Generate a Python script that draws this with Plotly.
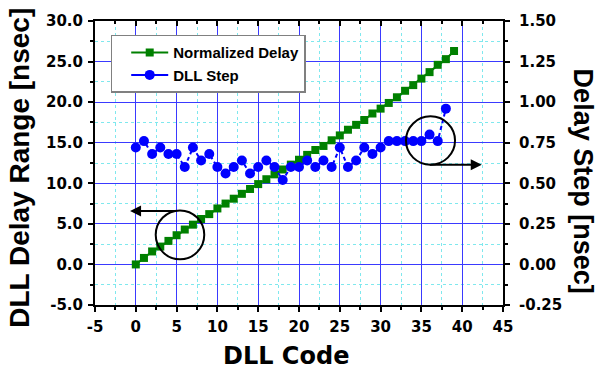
import plotly.graph_objects as go

# ---- data ----
codes_delay = list(range(40))
norm_delay = [0.0, 0.8, 1.6, 2.2, 2.9, 3.6, 4.3, 4.9, 5.6, 6.2,
              6.9, 7.5, 8.1, 8.7, 9.3, 9.9, 10.5, 11.1, 11.7, 12.3,
              12.9, 13.5, 14.1, 14.6, 15.3, 15.9, 16.6, 17.2, 17.8, 18.6,
              19.2, 19.9, 20.6, 21.4, 22.1, 22.9, 23.7, 24.6, 25.3, 26.3]
codes_step = list(range(39))
dll_step = [0.72, 0.76, 0.68, 0.72, 0.68, 0.68, 0.60, 0.72, 0.64, 0.68,
            0.60, 0.56, 0.60, 0.64, 0.56, 0.60, 0.64, 0.60, 0.52, 0.60,
            0.60, 0.64, 0.60, 0.64, 0.60, 0.72, 0.60, 0.64, 0.72, 0.68,
            0.72, 0.76, 0.76, 0.76, 0.76, 0.76, 0.80, 0.76, 0.96]

x_ticks = [-5, 0, 5, 10, 15, 20, 25, 30, 35, 40, 45]
x_labels = ["-5", "0", "5", "10", "15", "20", "25", "30", "35", "40", "45"]
left_ticks = [-5, 0, 5, 10, 15, 20, 25, 30]
left_labels = ["-5.0", "0.0", "5.0", "10.0", "15.0", "20.0", "25.0", "30.0"]
right_ticks = [-0.25, 0, 0.25, 0.5, 0.75, 1.0, 1.25, 1.5]
right_labels = ["-0.25", "0.00", "0.25", "0.50", "0.75", "1.00", "1.25", "1.50"]

GREEN = "#008000"
BLUE = "#0000FF"
ARIAL = "Liberation Sans, Arial, sans-serif"
DEJAVU = "DejaVu Sans, sans-serif"

fig = go.Figure()
fig.add_trace(go.Scatter(
    x=codes_delay, y=norm_delay, name="Normalized Delay", mode="lines+markers",
    line=dict(color=GREEN, width=2),
    marker=dict(symbol="square", size=8, color=GREEN),
    xaxis="x", yaxis="y"))
fig.add_trace(go.Scatter(
    x=codes_step, y=dll_step, name="DLL Step", mode="lines+markers",
    line=dict(color=BLUE, width=2, dash="4px,3px"),
    marker=dict(symbol="circle", size=10, color=BLUE),
    showlegend=False, xaxis="x", yaxis="y2"))
# legend entry for DLL Step (solid line, as in the original legend)
fig.add_trace(go.Scatter(
    x=[None], y=[None], name="DLL Step", mode="lines+markers",
    line=dict(color=BLUE, width=2),
    marker=dict(symbol="circle", size=10, color=BLUE),
    xaxis="x", yaxis="y2"))
# invisible trace to hold the top axis
fig.add_trace(go.Scatter(x=[-5], y=[-5], mode="markers", marker=dict(opacity=0),
                         showlegend=False, hoverinfo="skip", xaxis="x2", yaxis="y"))

tickfont = dict(family=DEJAVU, size=15, color="black", weight="bold")

fig.update_layout(
    width=598, height=373,
    margin=dict(l=95, r=95, t=15, b=68),
    paper_bgcolor="white", plot_bgcolor="white",
    showlegend=True,
    legend=dict(x=0.0385, y=0.952, xanchor="left", yanchor="top",
                bordercolor="#808080", borderwidth=1.5, bgcolor="white",
                font=dict(family=ARIAL, size=15, color="black", weight="bold"),
                indentation=14, itemwidth=37, tracegroupgap=0),
    xaxis=dict(range=[-5, 45], tickmode="array", tickvals=x_ticks, ticktext=x_labels,
               ticks="outside", ticklen=5, tickwidth=1.5, tickcolor="black",
               tickfont=tickfont, ticklabelstandoff=2,
               showline=True, linecolor="black", linewidth=2, zeroline=False,
               showgrid=True, gridcolor="#3a3aff", gridwidth=1,
               minor=dict(dtick=2.5, ticks="outside", ticklen=3, tickcolor="black",
                          showgrid=True, gridcolor="#7fe8ee", griddash="dot", gridwidth=1)),
    xaxis2=dict(range=[-5, 45], overlaying="x", side="top", anchor="y",
                tickmode="array", tickvals=x_ticks, showticklabels=False,
                ticks="inside", ticklen=5, tickwidth=1.5, tickcolor="black",
                showline=True, linecolor="black", linewidth=2, zeroline=False,
                showgrid=False,
                minor=dict(dtick=2.5, ticks="inside", ticklen=3, tickcolor="black", showgrid=False)),
    yaxis=dict(range=[-5, 30], tickmode="array", tickvals=left_ticks, ticktext=left_labels,
               ticks="outside", ticklen=5, tickwidth=1.5, tickcolor="black",
               tickfont=tickfont, ticklabelstandoff=2,
               showline=True, linecolor="black", linewidth=2, zeroline=False,
               showgrid=True, gridcolor="#3a3aff", gridwidth=1,
               minor=dict(dtick=2.5, ticks="outside", ticklen=3, tickcolor="black",
                          showgrid=True, gridcolor="#7fe8ee", griddash="dot", gridwidth=1)),
    yaxis2=dict(range=[-0.25, 1.5], overlaying="y", side="right", anchor="x",
                tickmode="array", tickvals=right_ticks, ticktext=right_labels,
                ticks="outside", ticklen=5, tickwidth=1.5, tickcolor="black",
                tickfont=tickfont, ticklabelstandoff=6,
                showline=True, linecolor="black", linewidth=2, zeroline=False,
                showgrid=False,
                minor=dict(dtick=0.125, ticks="outside", ticklen=3, tickcolor="black", showgrid=False)),
)

# circles
fig.add_shape(type="circle", xref="x", yref="y", x0=2.44, x1=8.39, y0=0.63, y1=6.66,
              line=dict(color="black", width=2))
fig.add_shape(type="circle", xref="x", yref="y", x0=33.11, x1=39.12, y0=12.29, y1=18.25,
              line=dict(color="black", width=2))

# arrows
fig.add_annotation(x=-0.7, y=6.58, ax=5.0, ay=6.58, xref="x", yref="y", axref="x", ayref="y",
                   text="", showarrow=True, arrowhead=2, arrowsize=1.1, arrowwidth=2,
                   arrowcolor="black")
fig.add_annotation(x=42.4, y=12.29, ax=35.85, ay=12.29, xref="x", yref="y", axref="x", ayref="y",
                   text="", showarrow=True, arrowhead=2, arrowsize=1.1, arrowwidth=2,
                   arrowcolor="black")

# axis titles
fig.add_annotation(text="DLL Delay Range [nsec]", xref="paper", yref="paper",
                   x=-0.184, y=0.483, textangle=-90, showarrow=False,
                   xanchor="center", yanchor="middle",
                   font=dict(family=ARIAL, size=28, color="black", weight="bold"))
fig.add_annotation(text="Delay Step [nsec]", xref="paper", yref="paper",
                   x=1.195, y=0.436, textangle=90, showarrow=False,
                   xanchor="center", yanchor="middle",
                   font=dict(family=ARIAL, size=27, color="black", weight="bold"))
fig.add_annotation(text="DLL Code", xref="paper", yref="paper",
                   x=0.469, y=-0.179, showarrow=False,
                   xanchor="center", yanchor="middle",
                   font=dict(family=DEJAVU, size=24, color="black", weight="bold"))

fig.write_html("out.html")
